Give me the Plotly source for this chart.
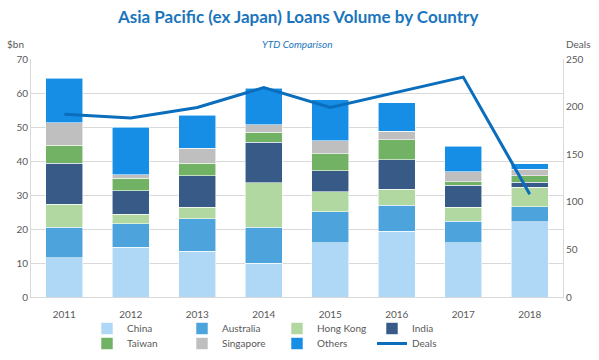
import plotly.graph_objects as go

years = ["2011", "2012", "2013", "2014", "2015", "2016", "2017", "2018"]
china = [11.5, 14.7, 13.5, 10.0, 16.0, 19.3, 16.0, 22.1]
australia = [9.0, 6.8, 9.5, 10.5, 9.1, 7.7, 6.3, 4.5]
hong_kong = [6.8, 2.8, 3.4, 13.1, 5.9, 4.7, 4.1, 5.7]
india = [12.1, 7.0, 9.3, 11.9, 6.2, 8.6, 6.5, 1.5]
taiwan = [5.2, 3.7, 3.7, 2.9, 5.0, 5.9, 1.0, 1.8]
singapore = [6.7, 1.0, 4.4, 2.2, 3.8, 2.5, 3.0, 2.0]
others = [13.1, 13.9, 9.6, 10.8, 12.0, 8.4, 7.5, 1.6]
deals = [192, 188, 199, 220, 199, 215, 231, 108]

series = [
    ("China", china, "#AED8F5", "legend"),
    ("Australia", australia, "#4DA3DB", "legend"),
    ("Hong Kong", hong_kong, "#B2D8A2", "legend"),
    ("India", india, "#385A87", "legend"),
    ("Taiwan", taiwan, "#72B264", "legend2"),
    ("Singapore", singapore, "#BFBFBF", "legend2"),
    ("Others", others, "#168EE6", "legend2"),
]

font_family = "Lato, 'Open Sans', sans-serif"
tick_color = "#595959"

L, R, T, B, W, H = 31, 36, 59, 63, 599, 360
pw = W - L - R

fig = go.Figure()
for name, vals, color, leg in series:
    fig.add_trace(go.Bar(
        x=years, y=vals, name=name, marker=dict(color=color, line=dict(color="rgba(255,255,255,0.7)", width=0.8)),
        legend=leg,
    ))
fig.add_trace(go.Scatter(
    x=years, y=deals, name="Deals", mode="lines", yaxis="y2",
    line=dict(color="#0A6EBD", width=3), legend="legend2",
))

leg_common = dict(orientation="h", xref="container", yref="container",
                  xanchor="left", yanchor="top", entrywidth=50, entrywidthmode="pixels",
                  font=dict(size=10, color=tick_color), traceorder="normal",
                  itemwidth=30, tracegroupgap=0, bgcolor="rgba(0,0,0,0)")

fig.update_layout(
    width=W, height=H,
    margin=dict(l=L, r=R, t=T, b=B, autoexpand=False),
    barmode="stack", bargap=0.44,
    plot_bgcolor="white", paper_bgcolor="white",
    font=dict(family=font_family, size=10, color=tick_color),
    xaxis=dict(showgrid=False, showline=True, linecolor="#D9D9D9", ticks="",
               ticklabelstandoff=8, tickfont=dict(size=10, color=tick_color)),
    yaxis=dict(range=[0, 70], dtick=10, showgrid=True, gridcolor="#D9D9D9",
               showline=True, linecolor="#D9D9D9", zeroline=False, ticks="",
               tickfont=dict(size=10, color=tick_color)),
    yaxis2=dict(range=[0, 250], dtick=50, overlaying="y", side="right",
                showgrid=False, showline=True, linecolor="#D9D9D9", zeroline=False,
                ticks="", tickfont=dict(size=10, color=tick_color)),
    showlegend=True,
    legend=dict(leg_common, x=87 / W, y=1 - 314 / H),
    legend2=dict(leg_common, x=87 / W, y=1 - 329 / H),
)

fig.add_annotation(text="<b>Asia Pacific (ex Japan) Loans Volume by Country</b>", xref="paper", yref="paper",
                   x=0.5, y=1, xanchor="center", yanchor="bottom", yshift=30, showarrow=False,
                   font=dict(size=17, color="#1B75BC", family=font_family))
fig.add_annotation(text="<i>YTD Comparison</i>", xref="paper", yref="paper",
                   x=0.5, y=1, xanchor="center", yanchor="bottom", yshift=7, showarrow=False,
                   font=dict(size=10, color="#1B75BC", family=font_family))
fig.add_annotation(text="$bn", xref="paper", yref="paper", x=(5 - L) / pw, y=1, xanchor="left",
                   yanchor="bottom", yshift=7, showarrow=False, font=dict(size=10, color=tick_color))
fig.add_annotation(text="Deals", xref="paper", yref="paper", x=(592 - L) / pw, y=1, xanchor="right",
                   yanchor="bottom", yshift=7, showarrow=False, font=dict(size=10, color=tick_color))

fig.write_html("out.html", config={"displayModeBar": False},
               post_script="document.body.style.margin='0';document.body.style.overflow='hidden';")
